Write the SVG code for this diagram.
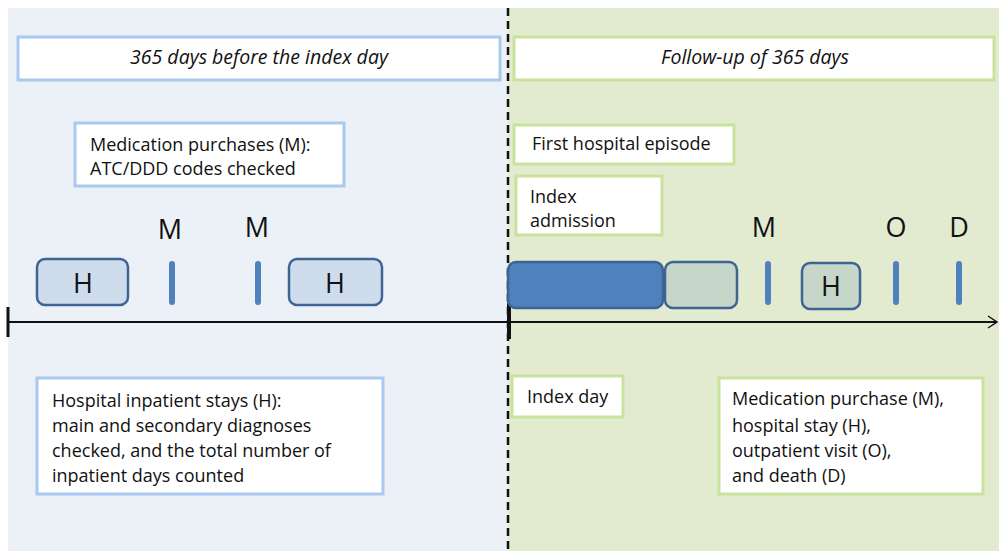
<svg xmlns="http://www.w3.org/2000/svg" width="999" height="551" viewBox="0 0 999 551">
<style>
.t{font-family:"Open Sans","Liberation Sans",Arial,sans-serif;font-size:18px;fill:#111}
.ti{font-family:"Open Sans","Liberation Sans",Arial,sans-serif;font-size:19.5px;font-style:italic;fill:#111}
.big{font-family:"Open Sans","Liberation Sans",Arial,sans-serif;font-size:27px;fill:#111;text-anchor:middle}
.bb{fill:#fff;stroke:#A9C9F0;stroke-width:3}
.gb{fill:#fff;stroke:#C9E39C;stroke-width:3}
.hb{fill:#CFDCEC;stroke:#3E6494;stroke-width:2.5}
.hg{fill:#C6D6C9;stroke:#3E6494;stroke-width:2.5}
.tick{stroke:#4F81BD;stroke-width:6;stroke-linecap:round}
</style>
<rect x="0" y="0" width="999" height="551" fill="#fff"/>
<rect x="8" y="8" width="500" height="543" fill="#ECF1F8"/>
<rect x="508" y="8" width="491" height="543" fill="#E2EACF"/>
<g id="connectors">
<line x1="508" y1="8" x2="508" y2="551" stroke="#111" stroke-width="2.5" stroke-dasharray="8,5"/>
<line x1="8" y1="322" x2="997" y2="322" stroke="#111" stroke-width="1.8"/>
<polyline points="988,316 997,322 988,328" fill="none" stroke="#111" stroke-width="1.5"/>
<line x1="8" y1="307" x2="8" y2="337" stroke="#111" stroke-width="3"/>
<line x1="509" y1="303" x2="509" y2="339" stroke="#111" stroke-width="4"/>
</g>
<g id="before-box"><rect class="bb" x="18" y="37" width="482" height="43" stroke="#95BCEC"/><text class="ti" x="259" y="64" text-anchor="middle">365 days before the index day</text></g>
<g id="followup-box"><rect class="gb" x="514" y="37" width="480" height="43"/><text class="ti" x="755" y="64" text-anchor="middle">Follow-up of 365 days</text></g>
<g id="medication-box"><rect class="bb" x="75" y="123" width="269" height="63"/><text class="t" x="90" y="151">Medication purchases (M):</text><text class="t" x="90" y="175">ATC/DDD codes checked</text></g>
<g id="first-episode"><rect class="gb" x="514" y="125" width="220" height="39"/><text class="t" x="532" y="150">First hospital episode</text></g>
<g id="index-admission"><rect class="gb" x="516" y="176" width="146" height="59"/><text class="t" x="530" y="203">Index</text><text class="t" x="530" y="227">admission</text></g>
<g id="label-m1"><text class="big" x="170" y="239">M</text></g>
<g id="label-m2"><text class="big" x="257" y="237">M</text></g>
<g id="label-m3"><text class="big" x="764" y="237">M</text></g>
<g id="label-o"><text class="big" x="896" y="237">O</text></g>
<g id="label-d"><text class="big" x="959" y="237">D</text></g>
<g id="h1"><rect class="hb" x="37" y="259" width="91" height="46" rx="8"/><text class="big" x="83" y="293" font-size="26">H</text></g>
<g id="tick-m1"><line class="tick" x1="172" y1="264" x2="172" y2="302"/></g>
<g id="tick-m2"><line class="tick" x1="258" y1="264" x2="258" y2="302"/></g>
<g id="h2"><rect class="hb" x="289" y="259" width="93" height="46" rx="8"/><text class="big" x="335" y="293" font-size="26">H</text></g>
<g id="index-bar"><rect x="508" y="262" width="155" height="46" rx="8" fill="#4F81BD" stroke="#3E6494" stroke-width="2.5"/></g>
<g id="stay-bar"><rect class="hg" x="665" y="262" width="72" height="46" rx="8"/></g>
<g id="tick-m3"><line class="tick" x1="768" y1="264" x2="768" y2="302"/></g>
<g id="h3"><rect class="hg" x="802" y="263" width="58" height="46" rx="8"/><text class="big" x="831" y="296" font-size="23">H</text></g>
<g id="tick-o"><line class="tick" x1="896" y1="264" x2="896" y2="302"/></g>
<g id="tick-d"><line class="tick" x1="959" y1="264" x2="959" y2="302"/></g>
<g id="hospital-box"><rect class="bb" x="37" y="378" width="346" height="116"/><text class="t" x="52" y="407">Hospital inpatient stays (H):</text><text class="t" x="52" y="432">main and secondary diagnoses</text><text class="t" x="52" y="457">checked, and the total number of</text><text class="t" x="52" y="482">inpatient days counted</text></g>
<g id="index-day"><rect class="gb" x="512" y="376" width="111" height="41"/><text class="t" x="527" y="403">Index day</text></g>
<g id="followup-events"><rect class="gb" x="719" y="378" width="264" height="116"/><text class="t" x="732" y="405">Medication purchase (M),</text><text class="t" x="732" y="432">hospital stay (H),</text><text class="t" x="732" y="457">outpatient visit (O),</text><text class="t" x="732" y="482">and death (D)</text></g>
</svg>
